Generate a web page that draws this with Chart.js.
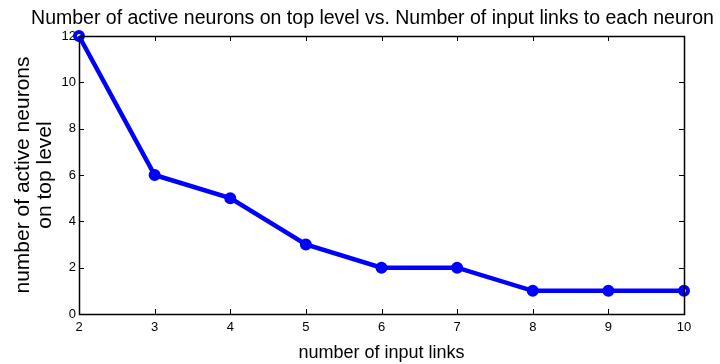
<!DOCTYPE html>
<html>
<head>
<meta charset="utf-8">
<script src="https://cdn.jsdelivr.net/npm/chart.js@4"></script>
<style>
  html, body { margin: 0; padding: 0; background: #ffffff; }
  #box { width: 720px; height: 364px; }
</style>
</head>
<body>
<div id="box"><canvas id="grafico"></canvas></div>
<script>
// dados
const links = [2, 3, 4, 5, 6, 7, 8, 9, 10];
const neuronios = [12, 6, 5, 3, 2, 2, 1, 1, 1];
const ticksX = [2, 3, 4, 5, 6, 7, 8, 9, 10];
const ticksY = [0, 2, 4, 6, 8, 10, 12];

const fonte = "'Liberation Sans', Arial, sans-serif";

// moldura e marcas para dentro, estilo matlab
const moldura = {
    id: 'moldura',
    afterDraw(chart) {
        const ctx = chart.ctx, a = chart.chartArea;
        const sx = chart.scales.x, sy = chart.scales.y;
        const t = 5;
        ctx.save();
        ctx.strokeStyle = '#000000';
        ctx.lineWidth = 1;
        ctx.beginPath();
        ticksX.forEach(v => {
            const px = Math.round(sx.getPixelForValue(v)) + 0.5;
            ctx.moveTo(px, a.bottom); ctx.lineTo(px, a.bottom - t);
            ctx.moveTo(px, a.top); ctx.lineTo(px, a.top + t);
        });
        ticksY.forEach(v => {
            const py = Math.round(sy.getPixelForValue(v)) + 0.5;
            ctx.moveTo(a.left, py); ctx.lineTo(a.left + t, py);
            ctx.moveTo(a.right, py); ctx.lineTo(a.right - t, py);
        });
        ctx.stroke();
        ctx.lineWidth = 1.5;
        ctx.strokeRect(Math.round(a.left) + 0.5, Math.round(a.top) + 0.5,
            Math.round(a.right - a.left), Math.round(a.bottom - a.top));
        ctx.restore();
    }
};

new Chart(document.getElementById('grafico'), {
    type: 'line',
    data: {
        datasets: [{
            data: links.map((x, i) => ({ x: x, y: neuronios[i] })),
            borderColor: '#0000ff',
            borderWidth: 4.5,
            pointRadius: 4,
            pointBorderWidth: 4,
            pointBackgroundColor: 'rgba(0,0,0,0)',
            pointBorderColor: '#0000ff',
            tension: 0,
            clip: false
        }]
    },
    options: {
        responsive: true,
        maintainAspectRatio: false,
        animation: false,
        layout: { padding: { left: 25, right: 0, top: 0, bottom: 0 } },
        plugins: {
            legend: { display: false },
            tooltip: { enabled: false },
            title: {
                display: true,
                text: 'Number of active neurons on top level vs. Number of input links to each neuron',
                color: '#000000',
                font: { family: fonte, size: 19.5, weight: 'normal', lineHeight: 1.2 },
                padding: { top: 6.5, bottom: 6.1 }
            }
        },
        scales: {
            x: {
                type: 'linear',
                min: 2,
                max: 10,
                grid: { display: false, drawTicks: false },
                border: { display: false },
                afterBuildTicks: s => { s.ticks = ticksX.map(v => ({ value: v })); },
                afterFit: s => { s.height = 50; },
                ticks: { color: '#000000', padding: 6, font: { family: fonte, size: 13 } },
                title: {
                    display: true,
                    text: 'number of input links',
                    color: '#000000',
                    font: { family: fonte, size: 18, lineHeight: 1.2 },
                    padding: { top: 0, bottom: 0 }
                }
            },
            y: {
                min: 0,
                max: 12,
                grid: { display: false, drawTicks: false },
                border: { display: false },
                afterBuildTicks: s => { s.ticks = ticksY.map(v => ({ value: v })); },
                afterFit: s => { s.width = 54; },
                ticks: { color: '#000000', padding: 3, font: { family: fonte, size: 13 } },
                title: {
                    display: true,
                    text: ['number of active neurons', 'on top level'],
                    color: '#000000',
                    font: { family: fonte, size: 21, lineHeight: 1.05 },
                    padding: { top: -13, bottom: 0 }
                }
            },
            // eixo vazio so para reservar a margem direita
            y2: {
                position: 'right',
                min: 0,
                max: 12,
                grid: { display: false, drawTicks: false },
                border: { display: false },
                ticks: { display: false },
                afterFit: s => { s.width = 36; }
            }
        }
    },
    plugins: [moldura]
});
</script>
</body>
</html>
